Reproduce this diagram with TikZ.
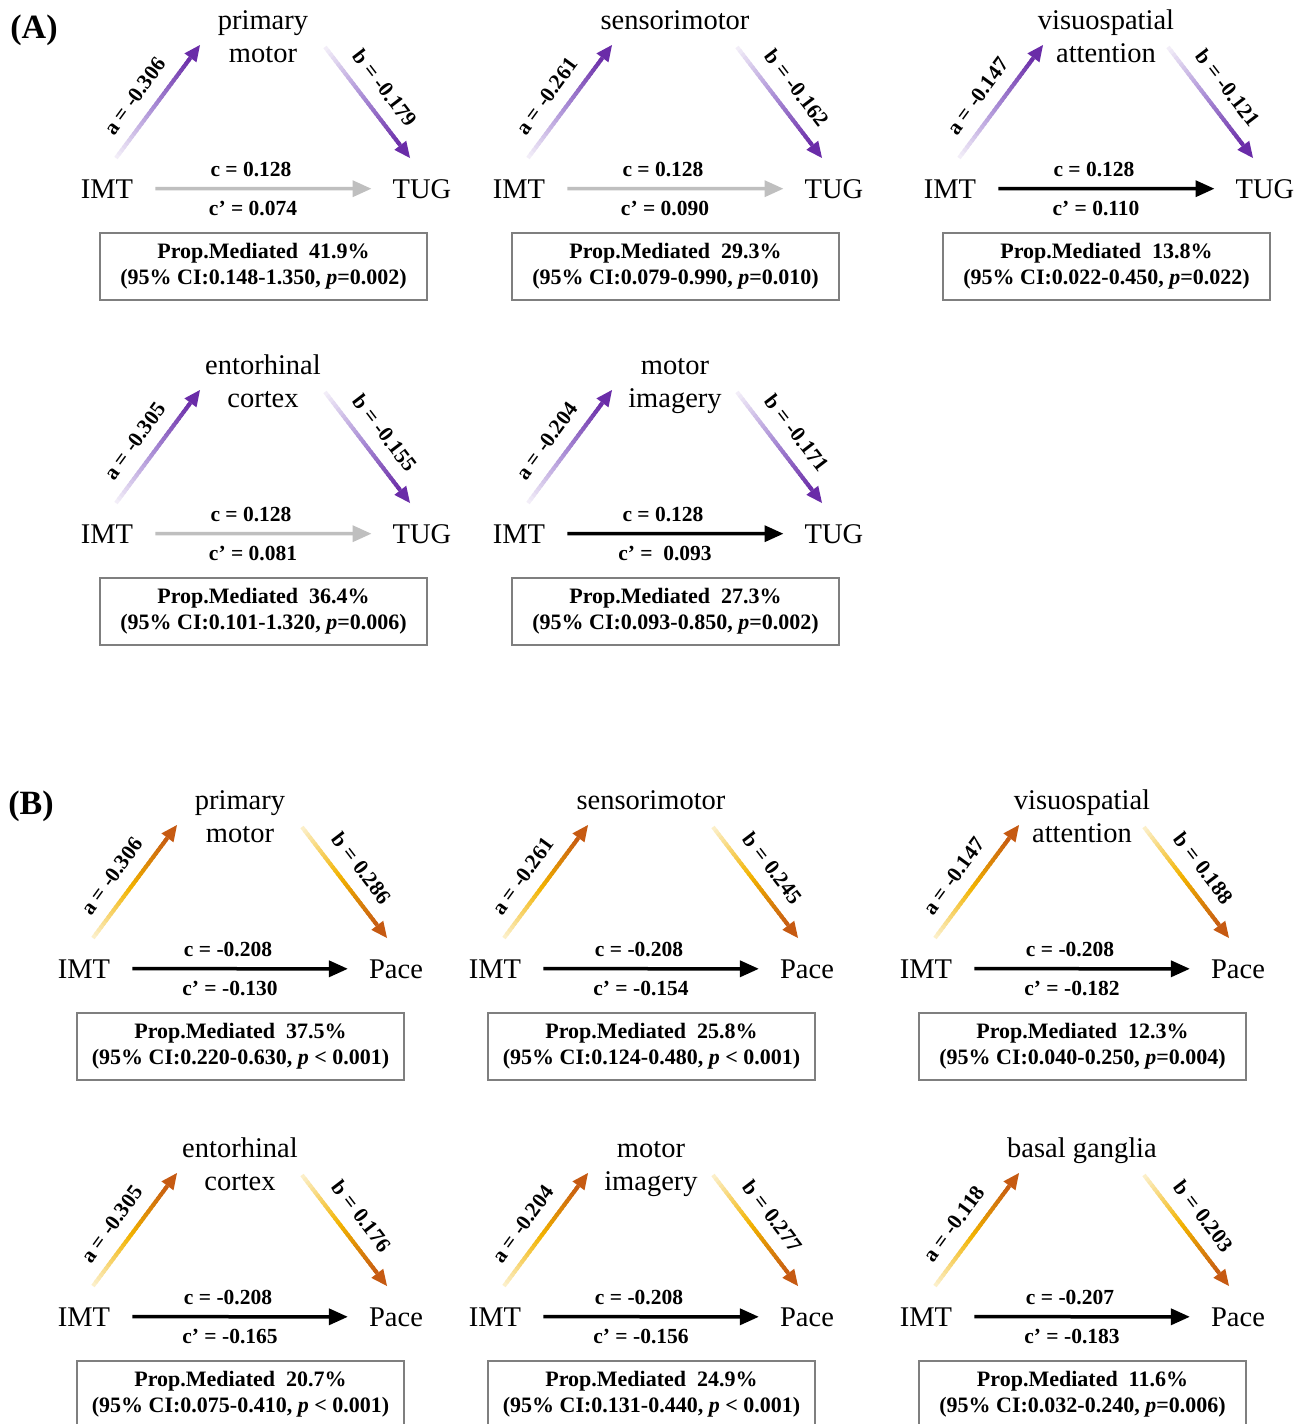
\documentclass[tikz,border=0pt]{standalone}
\usepackage{fontspec}
\setmainfont{Liberation Serif}
\usetikzlibrary{calc,arrows.meta}

% colours
\definecolor{purpLight}{HTML}{F4F0F9}
\definecolor{purpMid}{HTML}{AA8ED6}
\definecolor{purpDark}{HTML}{6A2CA8}
\definecolor{orLight}{HTML}{FCF1CE}
\definecolor{orMid}{HTML}{F2B300}
\definecolor{orDark}{HTML}{C65A12}
\definecolor{pathGray}{HTML}{BFBFBF}
\definecolor{boxGray}{HTML}{7F7F7F}

\tikzset{
  vartext/.style={font=\fontsize{28.5}{32}\selectfont, inner sep=0pt},
  coef/.style={font=\bfseries\fontsize{21.5}{24}\selectfont, inner sep=0pt},
  propbox/.style={draw=boxGray, line width=1.3pt, minimum width=327pt,
    minimum height=67pt, inner sep=0pt, align=center,
    font=\bfseries\fontsize{22}{26}\selectfont},
  direct/.style={line width=3.5pt, -{Triangle[length=19pt,width=16pt]},
    shorten <=22pt, shorten >=21pt},
  panellabel/.style={font=\bfseries\fontsize{34}{36}\selectfont, inner sep=0pt},
}

% shaded arrow: #1 start, #2 tip, #3 light, #4 middle, #5 dark colour
\newcommand\gradarrow[5]{%
  \coordinate (ga-hb) at ($(#2)!16pt!(#1)$);
  \foreach \gaI in {0,...,29}{%
    \pgfmathsetmacro\gaT{\gaI/30}%
    \pgfmathsetmacro\gaU{min((\gaI+1.6)/30,1)}%
    \pgfmathsetmacro\gaF{(\gaI+0.5)/30}%
    \ifdim\gaF pt<0.5pt
      \pgfmathtruncatemacro\gaP{\gaF*200}%
      \colorlet{ga-col}{#4!\gaP!#3}%
    \else
      \pgfmathtruncatemacro\gaP{(\gaF-0.5)*200}%
      \colorlet{ga-col}{#5!\gaP!#4}%
    \fi
    \draw[line width=4pt, draw=ga-col] ($(#1)!\gaT!(ga-hb)$) -- ($(#1)!\gaU!(ga-hb)$);
  }
  \fill[#5] (#2) -- ($(ga-hb)!7.5pt!90:(#2)$) -- ($(ga-hb)!7.5pt!-90:(#2)$) -- cycle;
}

% data of one mediation panel
\pgfkeys{/mp/.cd,
  med/.store in=\mpMed, medb/.store in=\mpMedb,
  a/.store in=\mpA, b/.store in=\mpB, c/.store in=\mpC, cp/.store in=\mpCp,
  out/.store in=\mpOut, outx/.store in=\mpOutX, dc/.store in=\mpDc,
  prop/.store in=\mpProp, ci/.store in=\mpCi,
  light/.store in=\mpL, mid/.store in=\mpM, dark/.store in=\mpD}

% #1 name prefix, #2 position of the IMT / outcome line, #3 data keys
\newcommand\mpanel[3]{%
  \pgfkeys{/mp/.cd, medb={}, #3}%
  \begin{scope}[shift={#2}]
    \node[vartext, anchor=base] (#1-x) at (0,10) {IMT};
    \node[vartext, anchor=base] (#1-y) at (\mpOutX,10) {\mpOut};
    \node[vartext, anchor=base] (#1-m) at (156,-159) {\mpMed};
    \ifx\mpMedb\empty\else
      \node[vartext, anchor=base] (#1-mb) at (156,-126) {\mpMedb};
    \fi
    \coordinate (#1-as) at (9,-30);
    \coordinate (#1-at) at (93,-143);
    \coordinate (#1-bs) at (218,-141);
    \coordinate (#1-bt) at (303,-30);
    \gradarrow{#1-as}{#1-at}{\mpL}{\mpM}{\mpD}
    \gradarrow{#1-bs}{#1-bt}{\mpL}{\mpM}{\mpD}
    \node[coef, rotate=53.7] (#1-al) at (28,-92) {a = \mpA};
    \node[coef, rotate=-52.6] (#1-bl) at (278,-100) {b = \mpB};
    \draw[direct, draw=\mpDc] (#1-x.east) -- (#1-y.west);
    \node[coef, anchor=base] (#1-cl) at (144,-12) {c = \mpC};
    \node[coef, anchor=base] (#1-cpl) at (146,27) {c’ = \mpCp};
    \node[propbox] (#1-p) at (156.5,78.5) {Prop.Mediated\ \ \mpProp\\\mpCi};
  \end{scope}
}

\begin{document}
\begin{tikzpicture}[x=1pt,y=-1pt]
\useasboundingbox[fill=white] (0,0) rectangle (1308,1424);

\node[panellabel] (lblA) at (34,30) {(A)};
\node[panellabel] (lblB) at (31,806) {(B)};

% (A) outcome TUG
\mpanel{pa1}{(107,188)}{med=primary, medb=motor, a=-0.306, b=-0.179, c=0.128, cp=0.074,
  out=TUG, outx=315, dc=pathGray, prop=41.9\%, ci={(95\% CI:0.148-1.350, \textit{p}=0.002)},
  light=purpLight, mid=purpMid, dark=purpDark}
\mpanel{pa2}{(519,188)}{med=sensorimotor, a=-0.261, b=-0.162, c=0.128, cp=0.090,
  out=TUG, outx=315, dc=pathGray, prop=29.3\%, ci={(95\% CI:0.079-0.990, \textit{p}=0.010)},
  light=purpLight, mid=purpMid, dark=purpDark}
\mpanel{pa3}{(950,188)}{med=visuospatial, medb=attention, a=-0.147, b=-0.121, c=0.128, cp=0.110,
  out=TUG, outx=315, dc=black, prop=13.8\%, ci={(95\% CI:0.022-0.450, \textit{p}=0.022)},
  light=purpLight, mid=purpMid, dark=purpDark}
\mpanel{pa4}{(107,533)}{med=entorhinal, medb=cortex, a=-0.305, b=-0.155, c=0.128, cp=0.081,
  out=TUG, outx=315, dc=pathGray, prop=36.4\%, ci={(95\% CI:0.101-1.320, \textit{p}=0.006)},
  light=purpLight, mid=purpMid, dark=purpDark}
\mpanel{pa5}{(519,533)}{med=motor, medb=imagery, a=-0.204, b=-0.171, c=0.128, cp={\ 0.093},
  out=TUG, outx=315, dc=black, prop=27.3\%, ci={(95\% CI:0.093-0.850, \textit{p}=0.002)},
  light=purpLight, mid=purpMid, dark=purpDark}

% (B) outcome Pace
\mpanel{pb1}{(84,968)}{med=primary, medb=motor, a=-0.306, b=0.286, c=-0.208, cp=-0.130,
  out=Pace, outx=312, dc=black, prop=37.5\%, ci={(95\% CI:0.220-0.630, \textit{p} < 0.001)},
  light=orLight, mid=orMid, dark=orDark}
\mpanel{pb2}{(495,968)}{med=sensorimotor, a=-0.261, b=0.245, c=-0.208, cp=-0.154,
  out=Pace, outx=312, dc=black, prop=25.8\%, ci={(95\% CI:0.124-0.480, \textit{p} < 0.001)},
  light=orLight, mid=orMid, dark=orDark}
\mpanel{pb3}{(926,968)}{med=visuospatial, medb=attention, a=-0.147, b=0.188, c=-0.208, cp=-0.182,
  out=Pace, outx=312, dc=black, prop=12.3\%, ci={(95\% CI:0.040-0.250, \textit{p}=0.004)},
  light=orLight, mid=orMid, dark=orDark}
\mpanel{pb4}{(84,1316)}{med=entorhinal, medb=cortex, a=-0.305, b=0.176, c=-0.208, cp=-0.165,
  out=Pace, outx=312, dc=black, prop=20.7\%, ci={(95\% CI:0.075-0.410, \textit{p} < 0.001)},
  light=orLight, mid=orMid, dark=orDark}
\mpanel{pb5}{(495,1316)}{med=motor, medb=imagery, a=-0.204, b=0.277, c=-0.208, cp=-0.156,
  out=Pace, outx=312, dc=black, prop=24.9\%, ci={(95\% CI:0.131-0.440, \textit{p} < 0.001)},
  light=orLight, mid=orMid, dark=orDark}
\mpanel{pb6}{(926,1316)}{med=basal ganglia, a=-0.118, b=0.203, c=-0.207, cp=-0.183,
  out=Pace, outx=312, dc=black, prop=11.6\%, ci={(95\% CI:0.032-0.240, \textit{p}=0.006)},
  light=orLight, mid=orMid, dark=orDark}
\end{tikzpicture}
\end{document}
